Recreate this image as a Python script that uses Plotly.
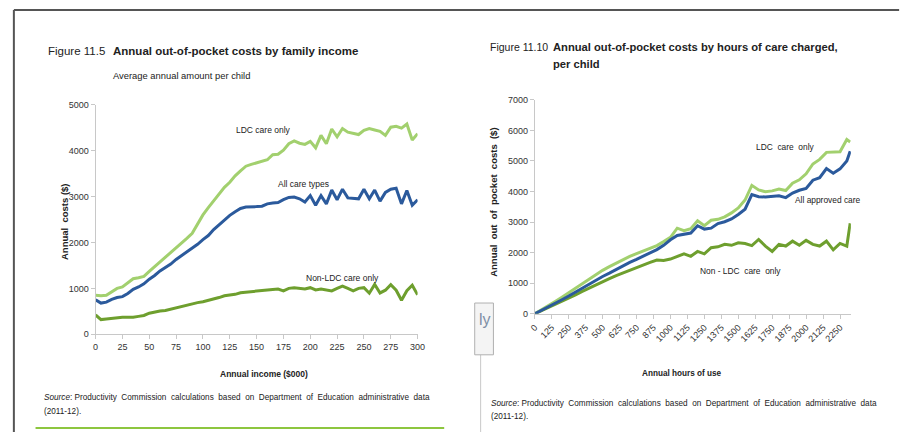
import plotly.graph_objects as go

# ---------------- Figure 11.5 data ----------------
income_k = [0, 5, 10, 15, 20, 25, 30, 35, 40, 45, 50, 55, 60, 65, 70, 75, 80, 85, 90, 95,
            100, 105, 110, 115, 120, 125, 130, 135, 140, 145, 150, 155, 160, 165, 170, 175,
            180, 185, 190, 195, 200, 205, 210, 215, 220, 225, 230, 235, 240, 245, 250, 255,
            260, 265, 270, 275, 280, 285, 290, 295, 300]
ldc_income = [850, 840, 850, 920, 1000, 1030, 1120, 1210, 1230, 1260, 1370, 1470, 1570, 1670,
              1770, 1870, 1980, 2090, 2200, 2400, 2600, 2760, 2900, 3050, 3200, 3310, 3450,
              3560, 3660, 3700, 3730, 3760, 3800, 3910, 3920, 4010, 4150, 4210, 4160, 4135,
              4200, 4060, 4330, 4150, 4470, 4300, 4480, 4400, 4370, 4350, 4440, 4480, 4450,
              4420, 4330, 4510, 4530, 4490, 4580, 4230, 4370]
all_income = [750, 680, 700, 760, 800, 820, 890, 980, 1030, 1100, 1200, 1280, 1380, 1460,
              1530, 1630, 1710, 1790, 1880, 1960, 2060, 2150, 2280, 2390, 2490, 2590, 2670,
              2740, 2770, 2770, 2780, 2790, 2840, 2860, 2870, 2930, 2980, 2990, 2950, 2880,
              3020, 2810, 3020, 2840, 3140, 2930, 3160, 2970, 2960, 2950, 3160, 2950, 3140,
              2900, 3090, 3160, 3180, 2840, 3130, 2810, 2930]
non_income = [420, 320, 335, 350, 365, 370, 370, 370, 390, 410, 460, 490, 505, 520, 550, 580,
              610, 645, 670, 690, 710, 740, 760, 800, 840, 855, 870, 905, 920, 930, 950, 965,
              965, 975, 985, 945, 1000, 1015, 1000, 985, 1015, 965, 985, 960, 945, 1000, 1050,
              1000, 945, 1000, 1015, 895, 1085, 900, 960, 1080, 960, 740, 950, 1070, 860]

# ---------------- Figure 11.10 data ----------------
hours = [0, 50, 100, 150, 200, 250, 300, 350, 400, 450, 500, 550, 600, 650, 700, 750, 800,
         850, 900, 950, 1000, 1050, 1100, 1150, 1200, 1250, 1300, 1350, 1400, 1450, 1500,
         1550, 1600, 1650, 1700, 1750, 1800, 1850, 1900, 1950, 2000, 2050, 2100, 2150, 2200,
         2250, 2300, 2325]
ldc_hours = [0, 125, 250, 400, 540, 690, 850, 1000, 1150, 1290, 1420, 1540, 1660, 1770, 1880,
             1970, 2050, 2130, 2230, 2360, 2500, 2800, 2720, 2780, 3040, 2880, 3060, 3090,
             3170, 3300, 3460, 3720, 4200, 4050, 3990, 4020, 4080, 4030, 4270, 4380, 4580,
             4900, 5050, 5280, 5300, 5300, 5700, 5620]
all_hours = [0, 110, 230, 350, 460, 580, 710, 840, 970, 1100, 1220, 1330, 1450, 1560, 1680,
             1780, 1890, 2000, 2100, 2240, 2420, 2560, 2600, 2640, 2880, 2770, 2800, 2950,
             3010, 3100, 3250, 3420, 3900, 3830, 3820, 3850, 3860, 3800, 3950, 4040, 4100,
             4370, 4450, 4750, 4600, 4740, 5000, 5320]
non_hours = [0, 100, 210, 310, 410, 510, 620, 730, 840, 950, 1060, 1150, 1250, 1340, 1430,
             1510, 1600, 1680, 1760, 1740, 1790, 1880, 1960, 1880, 2040, 1960, 2160, 2190,
             2270, 2240, 2320, 2300, 2230, 2430, 2215, 2040, 2270, 2215, 2375, 2240, 2400,
             2270, 2215, 2375, 2090, 2300, 2215, 2960]

hour_ticks = [0, 125, 250, 375, 500, 625, 750, 875, 1000, 1125, 1250, 1375, 1500, 1625,
              1750, 1875, 2000, 2125, 2250]

C_LIGHT = "#a2d06e"
C_BLUE = "#2b5a9c"
C_DARK = "#6e9f2e"

W, H = 915, 437
def PX(x):
    return x / W
def PY(y):
    return 1 - y / H

SANS = "Liberation Sans, Arial"

fig = go.Figure()

for ys, col, name in [(non_income, C_DARK, "Non-LDC care only"),
                      (all_income, C_BLUE, "All care types"),
                      (ldc_income, C_LIGHT, "LDC care only")]:
    fig.add_trace(go.Scatter(x=income_k, y=ys, mode="lines", name=name,
                             line=dict(color=col, width=3), xaxis="x", yaxis="y",
                             showlegend=False))
for ys, col, name in [(non_hours, C_DARK, "Non - LDC care only"),
                      (ldc_hours, C_LIGHT, "LDC care only"),
                      (all_hours, C_BLUE, "All approved care")]:
    fig.add_trace(go.Scatter(x=hours, y=ys, mode="lines", name=name,
                             line=dict(color=col, width=3), xaxis="x2", yaxis="y2",
                             showlegend=False))

axis_common = dict(showline=True, linecolor="#c8c8c8", linewidth=1, ticks="outside",
                   ticklen=4, tickcolor="#c8c8c8", showgrid=False, zeroline=False,
                   tickfont=dict(family=SANS, size=9, color="#333333"), fixedrange=True)

fig.update_layout(
    width=W, height=H, margin=dict(l=0, r=0, t=0, b=0), autosize=False,
    paper_bgcolor="white", plot_bgcolor="white",
    xaxis=dict(domain=[PX(91), PX(418)], range=[0, 300], tickmode="linear", tick0=0,
               dtick=25, anchor="y", **axis_common),
    yaxis=dict(domain=[PY(337), PY(102)], range=[0, 5000], tickmode="linear", tick0=0,
               dtick=1000, anchor="x", **axis_common),
    xaxis2=dict(domain=[PX(537), PX(858)], range=[0, 2330], tickvals=hour_ticks,
                tickangle=-45, anchor="y2", **axis_common),
    yaxis2=dict(domain=[PY(316), PY(97)], range=[0, 7000], tickmode="linear", tick0=0,
                dtick=1000, anchor="x2", **axis_common),
)

ann = []
def text(x, y, s, size=10, family=SANS, xanchor="left", color="#222222", angle=0,
         yanchor="middle"):
    ann.append(dict(x=PX(x), y=PY(y), xref="paper", yref="paper", text=s,
                    showarrow=False, xanchor=xanchor, yanchor=yanchor, textangle=angle,
                    font=dict(family=family, size=size, color=color)))

# Titles
text(41, 47, "Figure 11.5", size=11.5)
text(107, 47, "<b>Annual out-of-pocket costs by family income</b>", size=11.5)
text(107, 72, "Average annual amount per child", size=9.4)
text(489, 43, "Figure 11.10", size=10.5)
text(553, 43, "<b>Annual out-of-pocket costs by hours of care charged,</b>", size=11.2)
text(553, 60, "<b>per child</b>", size=11.2)

# Axis titles
text(60, 222, "<b>Annual  costs ($)</b>", size=9.5, xanchor="center", angle=-90)
text(262, 378, "<b>Annual income ($000)</b>", size=8.5, xanchor="center")
text(495, 202, "<b>Annual  out  of  pocket  costs  ($)</b>", size=9.5,
     xanchor="center", angle=-90)
text(687, 377, "<b>Annual hours of use</b>", size=8.2, xanchor="center")

# Series labels
text(262, 128, "LDC care only", size=8.5, xanchor="center")
text(302, 183, "All care types", size=8.5, xanchor="center")
text(342, 279, "Non-LDC care only", size=8.5, xanchor="center")
text(792, 145, "LDC  care  only", size=8.4, xanchor="center")
text(835, 200, "All approved care", size=8.4, xanchor="center")
text(746, 272, "Non - LDC  care  only", size=8.4, xanchor="center")

# Sources
src = "<i>Source</i>: Productivity  Commission  calculations  based  on  Department  of  Education  administrative  data"
text(37, 402, src, size=8.2)
text(37, 416, "(2011-12).", size=8.2)
text(490, 408, src, size=8.2)
text(490, 421, "(2011-12).", size=8.2)

# tooltip fragment
text(486, 322, "ly", size=16, xanchor="center", color="#7f8fa6")

shapes = [
    dict(type="line", xref="paper", yref="paper", x0=PX(8), x1=PX(8), y0=PY(5), y1=PY(437),
         line=dict(color="#555555", width=2)),
    dict(type="line", xref="paper", yref="paper", x0=PX(8), x1=PX(907), y0=PY(5), y1=PY(5),
         line=dict(color="#555555", width=2)),
    dict(type="line", xref="paper", yref="paper", x0=PX(30), x1=PX(445), y0=PY(433), y1=PY(433),
         line=dict(color="#8dc63f", width=2)),
    dict(type="line", xref="paper", yref="paper", x0=PX(482), x1=PX(482), y0=PY(358), y1=PY(437),
         line=dict(color="#c8c8c8", width=1)),
    dict(type="rect", xref="paper", yref="paper", x0=PX(476), x1=PX(495), y0=PY(358), y1=PY(305),
         line=dict(color="#b0b0b0", width=1), fillcolor="#f4f4f4"),
]

fig.update_layout(annotations=ann, shapes=shapes)
fig.write_html("out.html", config={"displayModeBar": False},
               post_script="document.body.style.margin='0';document.body.style.overflow='hidden';")
